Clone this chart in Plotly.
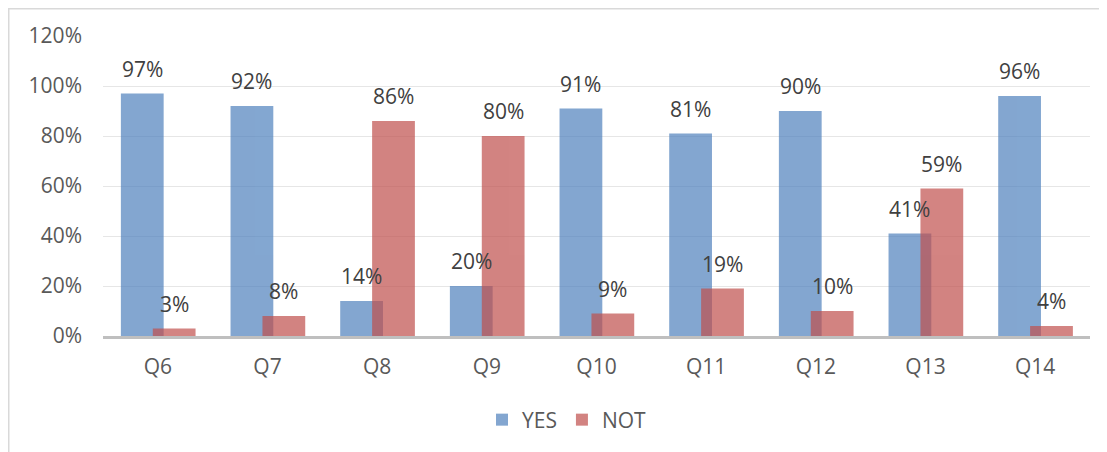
import plotly.graph_objects as go

categories = ["Q6", "Q7", "Q8", "Q9", "Q10", "Q11", "Q12", "Q13", "Q14"]
yes_values = [0.97, 0.92, 0.14, 0.20, 0.91, 0.81, 0.90, 0.41, 0.96]
not_values = [0.03, 0.08, 0.86, 0.80, 0.09, 0.19, 0.10, 0.59, 0.04]
series_names = ["YES", "NOT"]
y_ticks = [0, 0.2, 0.4, 0.6, 0.8, 1.0, 1.2]

FONT = "Open Sans"
FS = 21
# page has an 8px body margin; figure sized to fill the 1107x452 window
W, H = 1099, 444
ML, MR, MT, MB = 95, 17, 28, 116
PW = W - ML - MR
PH = H - MT - MB

BAR_W = 0.39
OFF_YES = -0.337
OFF_NOT = -0.046

fig = go.Figure()
fig.add_trace(go.Bar(
    x=categories, y=yes_values, name=series_names[0],
    marker=dict(color="#4F81BD", line=dict(width=0)),
    opacity=0.7, width=BAR_W, offset=OFF_YES,
))
fig.add_trace(go.Bar(
    x=categories, y=not_values, name=series_names[1],
    marker=dict(color="#C0504D", line=dict(width=0)),
    opacity=0.7, width=BAR_W, offset=OFF_NOT,
))

unit_px = PW / len(categories)
shift_yes = (OFF_YES + BAR_W / 2) * unit_px
shift_not = (OFF_NOT + BAR_W / 2) * unit_px
annotations = []
for cat, yv, nv in zip(categories, yes_values, not_values):
    for v, sh in ((yv, shift_yes), (nv, shift_not)):
        annotations.append(dict(
            x=cat, y=v, xref="x", yref="y", text=f"{round(v*100)}%",
            showarrow=False, xshift=sh, yshift=25, yanchor="middle",
            font=dict(family=FONT, size=FS, color="#404040"),
        ))


def px_to_paper_x(px):
    return (px - ML) / PW


def px_to_paper_y(py):
    return (H - MB - py) / PH


shapes = [dict(
    type="rect", xref="paper", yref="paper",
    x0=px_to_paper_x(0.75), x1=px_to_paper_x(1120),
    y0=px_to_paper_y(470), y1=px_to_paper_y(0.75),
    line=dict(color="#D9D9D9", width=1.5), fillcolor="rgba(0,0,0,0)", layer="below",
)]

fig.update_layout(
    width=W, height=H,
    margin=dict(l=ML, r=MR, t=MT, b=MB, autoexpand=False),
    barmode="overlay",
    plot_bgcolor="white", paper_bgcolor="white",
    font=dict(family=FONT, size=FS, color="#595959"),
    showlegend=True,
    legend=dict(
        orientation="h", x=px_to_paper_x(559), xanchor="center",
        y=px_to_paper_y(412), yanchor="middle",
        font=dict(family=FONT, size=FS, color="#595959"),
        itemwidth=30, traceorder="normal",
    ),
    annotations=annotations,
    shapes=shapes,
)
fig.update_yaxes(
    range=[0, 1.2], tickvals=y_ticks, tickformat=".0%",
    showgrid=True, gridcolor="#E6E6E6", gridwidth=1.3,
    zeroline=False, showline=False, ticks="",
    ticklabelstandoff=20,
    tickfont=dict(family=FONT, size=FS, color="#595959"),
)
fig.update_xaxes(
    showline=True, linecolor="#BFBFBF", linewidth=2.5,
    showgrid=False, ticks="", ticklabelstandoff=10,
    tickfont=dict(family=FONT, size=FS, color="#595959"),
)

fig.write_html("out.html")
